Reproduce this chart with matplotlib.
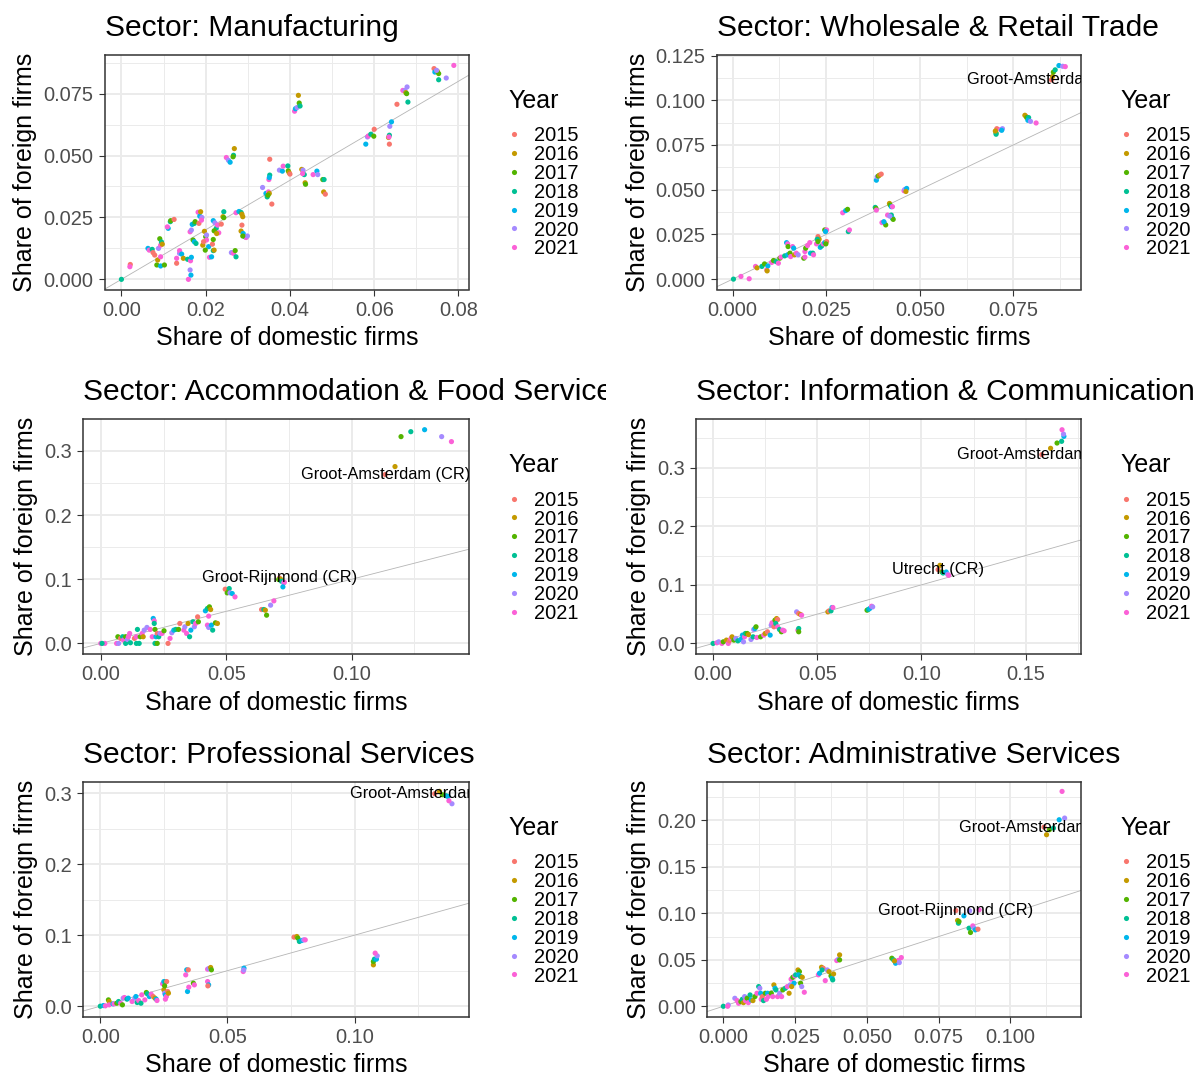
import matplotlib.pyplot as plt
from matplotlib.lines import Line2D
from matplotlib.ticker import FixedLocator, AutoMinorLocator, FormatStrFormatter
from matplotlib.transforms import Bbox

plt.rcParams['font.family'] = ['Liberation Sans', 'DejaVu Sans']

W, H = 1197, 1074

years = [2015, 2016, 2017, 2018, 2019, 2020, 2021]
year_colors = ['#F8766D', '#C49A00', '#53B400', '#00C094', '#00B6EB', '#A58AFF', '#FB61D7']

# (share of domestic firms, share of foreign firms, year)
mfg_pts = [
    (0.0000, 0.0000, 2018),
    (0.0021, 0.0060, 2015), (0.0020, 0.0051, 2021),
    (0.0063, 0.0125, 2019), (0.0066, 0.0118, 2021), (0.0073, 0.0121, 2018), (0.0075, 0.0108, 2015),
    (0.0084, 0.0058, 2017), (0.0093, 0.0054, 2019), (0.0102, 0.0058, 2017), (0.0086, 0.0078, 2016),
    (0.0093, 0.0091, 2021), (0.0088, 0.0125, 2020), (0.0093, 0.0138, 2021), (0.0079, 0.0098, 2015),
    (0.0091, 0.0164, 2017), (0.0095, 0.0151, 2018), (0.0097, 0.0142, 2016),
    (0.0111, 0.0206, 2019), (0.0109, 0.0212, 2021), (0.0116, 0.0233, 2018), (0.0117, 0.0237, 2017), (0.0125, 0.0242, 2015),
    (0.0131, 0.0065, 2015), (0.0131, 0.0085, 2021), (0.0138, 0.0105, 2020), (0.0138, 0.0116, 2021), (0.0143, 0.0102, 2019),
    (0.0147, 0.0085, 2016), (0.0157, 0.0081, 2018),
    (0.0163, 0.0038, 2020), (0.0165, 0.0017, 2019), (0.0159, 0.0000, 2021), (0.0164, 0.0075, 2021), (0.0166, 0.0089, 2019),
    (0.0163, 0.0192, 2021), (0.0166, 0.0199, 2020),
    (0.0168, 0.0222, 2019), (0.0173, 0.0226, 2018), (0.0175, 0.0233, 2017),
    (0.0170, 0.0159, 2017), (0.0173, 0.0152, 2019), (0.0177, 0.0145, 2018),
    (0.0182, 0.0271, 2021), (0.0186, 0.0255, 2019), (0.0188, 0.0273, 2016), (0.0191, 0.0250, 2020),
    (0.0184, 0.0226, 2015), (0.0190, 0.0239, 2021),
    (0.0197, 0.0194, 2016), (0.0200, 0.0172, 2017), (0.0202, 0.0159, 2021), (0.0207, 0.0132, 2019),
    (0.0199, 0.0118, 2017), (0.0193, 0.0138, 2016), (0.0195, 0.0152, 2015), (0.0202, 0.0179, 2020),
    (0.0209, 0.0089, 2021), (0.0214, 0.0091, 2019),
    (0.0216, 0.0142, 2015), (0.0218, 0.0161, 2017), (0.0218, 0.0116, 2018), (0.0220, 0.0118, 2016),
    (0.0218, 0.0237, 2019), (0.0222, 0.0228, 2020), (0.0225, 0.0206, 2018), (0.0228, 0.0219, 2021),
    (0.0231, 0.0188, 2021), (0.0220, 0.0196, 2017), (0.0226, 0.0185, 2016),
    (0.0237, 0.0223, 2015),
    (0.0243, 0.0273, 2018), (0.0241, 0.0253, 2016), (0.0243, 0.0249, 2017),
    (0.0249, 0.0492, 2021), (0.0254, 0.0481, 2020), (0.0258, 0.0473, 2019),
    (0.0261, 0.0108, 2020), (0.0266, 0.0105, 2021), (0.0270, 0.0116, 2017), (0.0272, 0.0091, 2018),
    (0.0268, 0.0528, 2016), (0.0266, 0.0501, 2018), (0.0265, 0.0495, 2017),
    (0.0272, 0.0269, 2021), (0.0279, 0.0274, 2019), (0.0284, 0.0270, 2018), (0.0286, 0.0263, 2016),
    (0.0288, 0.0253, 2016), (0.0286, 0.0219, 2015), (0.0284, 0.0195, 2016), (0.0289, 0.0185, 2019),
    (0.0293, 0.0172, 2018), (0.0296, 0.0169, 2021), (0.0299, 0.0175, 2020), (0.0288, 0.0175, 2017),
    (0.0335, 0.0371, 2020), (0.0343, 0.0347, 2019), (0.0346, 0.0333, 2018), (0.0349, 0.0353, 2021),
    (0.0351, 0.0347, 2016), (0.0348, 0.0340, 2017),
    (0.0352, 0.0485, 2015),
    (0.0350, 0.0403, 2021), (0.0352, 0.0421, 2018), (0.0351, 0.0411, 2019),
    (0.0357, 0.0304, 2015),
    (0.0375, 0.0441, 2020), (0.0382, 0.0437, 2019), (0.0384, 0.0457, 2021), (0.0395, 0.0458, 2018),
    (0.0396, 0.0438, 2017), (0.0398, 0.0431, 2016), (0.0400, 0.0425, 2015),
    (0.0411, 0.0679, 2021), (0.0413, 0.0689, 2019), (0.0417, 0.0694, 2020), (0.0420, 0.0743, 2016),
    (0.0422, 0.0712, 2017), (0.0424, 0.0700, 2018),
    (0.0428, 0.0444, 2016), (0.0431, 0.0441, 2020), (0.0434, 0.0423, 2018), (0.0436, 0.0390, 2016),
    (0.0437, 0.0384, 2017), (0.0430, 0.0427, 2021),
    (0.0455, 0.0423, 2021), (0.0464, 0.0437, 2019), (0.0466, 0.0423, 2020),
    (0.0478, 0.0403, 2017), (0.0481, 0.0403, 2018), (0.0480, 0.0353, 2016), (0.0484, 0.0344, 2015),
    (0.0580, 0.0546, 2019), (0.0584, 0.0575, 2020), (0.0586, 0.0579, 2021), (0.0592, 0.0586, 2018),
    (0.0599, 0.0578, 2017), (0.0600, 0.0606, 2015),
    (0.0634, 0.0573, 2016), (0.0636, 0.0582, 2018), (0.0636, 0.0546, 2015), (0.0637, 0.0618, 2020),
    (0.0641, 0.0636, 2019), (0.0635, 0.0575, 2021),
    (0.0654, 0.0707, 2015),
    (0.0668, 0.0763, 2021), (0.0673, 0.0763, 2020), (0.0675, 0.0754, 2016), (0.0677, 0.0750, 2017),
    (0.0678, 0.0777, 2020), (0.0680, 0.0716, 2018),
    (0.0742, 0.0851, 2015), (0.0744, 0.0837, 2019), (0.0750, 0.0840, 2016), (0.0753, 0.0831, 2017),
    (0.0753, 0.0806, 2018), (0.0748, 0.0844, 2020),
    (0.0771, 0.0813, 2020),
    (0.0789, 0.0864, 2021),
]

trade_pts = [
    (0.0002, 0.0000, 2018), (0.0022, 0.0015, 2021), (0.0044, 0.0002, 2021),
    (0.0061, 0.0071, 2021), (0.0065, 0.0063, 2016),
    (0.0078, 0.0071, 2018), (0.0085, 0.0085, 2017), (0.0091, 0.0052, 2021), (0.0094, 0.0074, 2019), (0.0092, 0.0046, 2016),
    (0.0104, 0.0093, 2021), (0.0109, 0.0104, 2017), (0.0116, 0.0098, 2018), (0.0122, 0.0089, 2021),
    (0.0126, 0.0117, 2017), (0.0129, 0.0123, 2021),
    (0.0139, 0.0130, 2018), (0.0147, 0.0136, 2019), (0.0153, 0.0145, 2017), (0.0155, 0.0126, 2021),
    (0.0144, 0.0204, 2019), (0.0147, 0.0197, 2021), (0.0148, 0.0182, 2017),
    (0.0160, 0.0182, 2021), (0.0163, 0.0173, 2019),
    (0.0165, 0.0136, 2016), (0.0170, 0.0145, 2021), (0.0175, 0.0136, 2020),
    (0.0190, 0.0117, 2017), (0.0193, 0.0123, 2021),
    (0.0193, 0.0154, 2021), (0.0195, 0.0173, 2017), (0.0200, 0.0188, 2021), (0.0206, 0.0204, 2021),
    (0.0208, 0.0145, 2019), (0.0214, 0.0145, 2018), (0.0216, 0.0136, 2021),
    (0.0224, 0.0197, 2021), (0.0228, 0.0238, 2015), (0.0231, 0.0223, 2016), (0.0226, 0.0223, 2018), (0.0228, 0.0210, 2017),
    (0.0234, 0.0178, 2019), (0.0238, 0.0186, 2018), (0.0242, 0.0197, 2021),
    (0.0246, 0.0275, 2017), (0.0251, 0.0275, 2021), (0.0248, 0.0266, 2019),
    (0.0246, 0.0204, 2019), (0.0251, 0.0210, 2015), (0.0249, 0.0197, 2017),
    (0.0294, 0.0371, 2021), (0.0302, 0.0383, 2019), (0.0307, 0.0390, 2017),
    (0.0309, 0.0266, 2018), (0.0312, 0.0275, 2021),
    (0.0381, 0.0401, 2018), (0.0383, 0.0395, 2017), (0.0384, 0.0386, 2021),
    (0.0384, 0.0553, 2019), (0.0386, 0.0572, 2020), (0.0389, 0.0576, 2017), (0.0392, 0.0581, 2016), (0.0397, 0.0587, 2015),
    (0.0399, 0.0316, 2021), (0.0405, 0.0316, 2020), (0.0409, 0.0303, 2017), (0.0404, 0.0321, 2019),
    (0.0414, 0.0358, 2021), (0.0419, 0.0423, 2016), (0.0421, 0.0414, 2017), (0.0424, 0.0405, 2019), (0.0427, 0.0405, 2021),
    (0.0424, 0.0358, 2018), (0.0427, 0.0340, 2019), (0.0429, 0.0334, 2017), (0.0420, 0.0352, 2020),
    (0.0458, 0.0494, 2021), (0.0460, 0.0501, 2020), (0.0465, 0.0507, 2019), (0.0463, 0.0490, 2016),
    (0.0704, 0.0817, 2017), (0.0704, 0.0810, 2018), (0.0706, 0.0841, 2015), (0.0702, 0.0828, 2016),
    (0.0716, 0.0836, 2021), (0.0721, 0.0841, 2020), (0.0719, 0.0832, 2019),
    (0.0784, 0.0910, 2015), (0.0781, 0.0916, 2016), (0.0786, 0.0903, 2017), (0.0791, 0.0903, 2018),
    (0.0789, 0.0888, 2019), (0.0796, 0.0882, 2020), (0.0811, 0.0873, 2021),
    (0.0852, 0.1114, 2015), (0.0855, 0.1133, 2016), (0.0857, 0.1157, 2017), (0.0862, 0.1170, 2018),
    (0.0872, 0.1194, 2019), (0.0882, 0.1190, 2020), (0.0889, 0.1188, 2021),
]

food_pts = [
    (0.0000, 0.0000, 2021), (0.0016, 0.0000, 2021), (0.0005, 0.0000, 2018),
    (0.0063, 0.0000, 2021), (0.0071, 0.0000, 2020), (0.0068, 0.0104, 2017), (0.0079, 0.0078, 2015),
    (0.0087, 0.0104, 2018), (0.0090, 0.0052, 2021), (0.0099, 0.0104, 2017), (0.0099, 0.0000, 2018),
    (0.0106, 0.0062, 2020), (0.0110, 0.0104, 2021), (0.0118, 0.0010, 2018), (0.0115, 0.0155, 2021),
    (0.0134, 0.0078, 2015), (0.0142, 0.0104, 2021), (0.0146, 0.0218, 2018), (0.0142, 0.0000, 2018),
    (0.0153, 0.0000, 2018), (0.0157, 0.0104, 2017), (0.0165, 0.0155, 2021), (0.0169, 0.0104, 2016), (0.0173, 0.0207, 2020),
    (0.0184, 0.0249, 2020), (0.0197, 0.0218, 2021), (0.0209, 0.0389, 2019), (0.0213, 0.0352, 2021),
    (0.0213, 0.0311, 2018), (0.0216, 0.0218, 2017), (0.0205, 0.0104, 2021), (0.0216, 0.0000, 2018),
    (0.0225, 0.0000, 2017), (0.0220, 0.0104, 2019), (0.0225, 0.0155, 2015), (0.0231, 0.0104, 2018), (0.0236, 0.0155, 2020),
    (0.0244, 0.0155, 2021), (0.0252, 0.0197, 2017), (0.0268, 0.0000, 2015), (0.0276, 0.0078, 2021),
    (0.0283, 0.0166, 2020), (0.0291, 0.0207, 2019), (0.0299, 0.0218, 2018), (0.0310, 0.0218, 2017), (0.0315, 0.0311, 2015),
    (0.0331, 0.0207, 2021), (0.0335, 0.0259, 2020), (0.0342, 0.0155, 2021), (0.0348, 0.0311, 2016),
    (0.0354, 0.0104, 2018), (0.0359, 0.0207, 2019), (0.0367, 0.0337, 2018), (0.0373, 0.0259, 2020),
    (0.0378, 0.0311, 2021), (0.0386, 0.0414, 2015), (0.0389, 0.0337, 2017),
    (0.0417, 0.0508, 2019), (0.0425, 0.0544, 2018), (0.0433, 0.0570, 2017), (0.0438, 0.0528, 2016),
    (0.0430, 0.0425, 2021), (0.0425, 0.0285, 2021), (0.0430, 0.0249, 2020), (0.0441, 0.0285, 2019),
    (0.0446, 0.0207, 2018), (0.0457, 0.0321, 2017), (0.0465, 0.0311, 2016),
    (0.0496, 0.0845, 2015), (0.0509, 0.0819, 2016), (0.0512, 0.0855, 2018), (0.0504, 0.0788, 2017),
    (0.0515, 0.0788, 2020), (0.0524, 0.0777, 2019), (0.0535, 0.0725, 2021),
    (0.0641, 0.0528, 2015), (0.0650, 0.0528, 2018), (0.0656, 0.0518, 2016), (0.0661, 0.0440, 2017),
    (0.0677, 0.0596, 2020), (0.0690, 0.0663, 2021),
    (0.0712, 0.1020, 2015), (0.0709, 0.0995, 2017), (0.0717, 0.1000, 2016), (0.0720, 0.0969, 2018),
    (0.0729, 0.0943, 2020), (0.0732, 0.0953, 2021), (0.0726, 0.0881, 2019),
    (0.1134, 0.2632, 2015), (0.1173, 0.2756, 2016), (0.1197, 0.3223, 2017), (0.1236, 0.3300, 2018),
    (0.1291, 0.3331, 2019), (0.1359, 0.3223, 2020), (0.1398, 0.3145, 2021),
]

ict_pts = [
    (0.0000, 0.0000, 2018),
    (0.0018, 0.0011, 2021), (0.0027, 0.0028, 2020), (0.0042, 0.0000, 2021), (0.0049, 0.0028, 2017),
    (0.0064, 0.0057, 2016), (0.0073, 0.0000, 2021), (0.0078, 0.0045, 2015), (0.0086, 0.0085, 2021),
    (0.0091, 0.0113, 2016), (0.0100, 0.0057, 2017),
    (0.0109, 0.0085, 2020), (0.0119, 0.0045, 2018), (0.0133, 0.0068, 2019), (0.0141, 0.0142, 2019),
    (0.0151, 0.0113, 2021), (0.0146, 0.0028, 2020), (0.0155, 0.0170, 2018), (0.0164, 0.0170, 2017), (0.0170, 0.0150, 2016),
    (0.0182, 0.0068, 2020), (0.0192, 0.0113, 2018), (0.0195, 0.0238, 2020), (0.0201, 0.0255, 2019),
    (0.0206, 0.0284, 2017), (0.0210, 0.0102, 2021),
    (0.0228, 0.0113, 2017), (0.0243, 0.0142, 2021), (0.0250, 0.0170, 2016), (0.0261, 0.0199, 2015),
    (0.0274, 0.0142, 2019), (0.0279, 0.0312, 2020), (0.0283, 0.0352, 2021), (0.0292, 0.0284, 2015),
    (0.0297, 0.0397, 2017), (0.0305, 0.0425, 2016), (0.0310, 0.0408, 2015), (0.0301, 0.0340, 2018),
    (0.0310, 0.0284, 2021), (0.0319, 0.0238, 2018), (0.0328, 0.0199, 2017), (0.0334, 0.0227, 2021), (0.0341, 0.0216, 2021),
    (0.0401, 0.0539, 2020), (0.0411, 0.0510, 2015), (0.0420, 0.0493, 2016), (0.0425, 0.0482, 2021),
    (0.0407, 0.0227, 2021), (0.0411, 0.0255, 2018), (0.0411, 0.0199, 2017),
    (0.0551, 0.0539, 2016), (0.0557, 0.0556, 2015), (0.0566, 0.0556, 2018), (0.0571, 0.0613, 2019), (0.0575, 0.0613, 2021),
    (0.0739, 0.0567, 2017), (0.0745, 0.0579, 2018), (0.0752, 0.0596, 2019), (0.0761, 0.0635, 2021), (0.0766, 0.0624, 2020),
    (0.1080, 0.1260, 2015), (0.1089, 0.1333, 2016), (0.1099, 0.1219, 2017), (0.1104, 0.1202, 2018),
    (0.1119, 0.1219, 2019), (0.1126, 0.1180, 2020), (0.1131, 0.1163, 2021),
    (0.1578, 0.3222, 2015), (0.1620, 0.3330, 2016), (0.1651, 0.3420, 2017), (0.1673, 0.3449, 2018),
    (0.1684, 0.3534, 2019), (0.1682, 0.3573, 2020), (0.1675, 0.3647, 2021),
]

prof_pts = [
    (0.0000, 0.0000, 2018), (0.0012, 0.0009, 2019), (0.0020, 0.0005, 2021),
    (0.0032, 0.0089, 2017), (0.0035, 0.0066, 2016), (0.0035, 0.0019, 2021), (0.0050, 0.0033, 2019),
    (0.0054, 0.0033, 2021), (0.0065, 0.0042, 2017), (0.0072, 0.0066, 2018), (0.0080, 0.0042, 2021),
    (0.0087, 0.0019, 2017), (0.0090, 0.0113, 2020), (0.0095, 0.0122, 2021), (0.0105, 0.0099, 2018), (0.0110, 0.0113, 2019),
    (0.0125, 0.0066, 2021), (0.0136, 0.0113, 2020), (0.0140, 0.0136, 2019), (0.0145, 0.0052, 2018),
    (0.0151, 0.0080, 2021), (0.0160, 0.0042, 2018), (0.0163, 0.0160, 2021),
    (0.0175, 0.0089, 2021), (0.0181, 0.0193, 2017), (0.0185, 0.0174, 2018), (0.0193, 0.0136, 2019),
    (0.0200, 0.0169, 2021), (0.0208, 0.0136, 2015), (0.0215, 0.0113, 2016), (0.0220, 0.0099, 2019), (0.0223, 0.0080, 2021),
    (0.0245, 0.0315, 2021), (0.0250, 0.0347, 2019), (0.0256, 0.0340, 2018), (0.0261, 0.0347, 2015),
    (0.0250, 0.0230, 2016), (0.0253, 0.0183, 2020), (0.0256, 0.0160, 2019), (0.0260, 0.0136, 2021),
    (0.0265, 0.0207, 2015), (0.0268, 0.0183, 2016), (0.0256, 0.0099, 2021), (0.0253, 0.0286, 2017),
    (0.0336, 0.0441, 2021), (0.0340, 0.0512, 2019), (0.0346, 0.0512, 2015),
    (0.0343, 0.0207, 2019), (0.0348, 0.0268, 2021), (0.0366, 0.0324, 2017), (0.0370, 0.0300, 2021),
    (0.0422, 0.0521, 2021), (0.0427, 0.0530, 2020), (0.0434, 0.0545, 2016), (0.0437, 0.0512, 2017),
    (0.0422, 0.0347, 2021), (0.0426, 0.0300, 2019), (0.0423, 0.0286, 2015),
    (0.0562, 0.0488, 2021), (0.0565, 0.0535, 2019), (0.0564, 0.0510, 2020),
    (0.0762, 0.0972, 2015), (0.0773, 0.0981, 2016), (0.0777, 0.0958, 2017), (0.0783, 0.0911, 2018),
    (0.0792, 0.0925, 2019), (0.0800, 0.0934, 2020), (0.0806, 0.0934, 2021),
    (0.1074, 0.0582, 2016), (0.1074, 0.0629, 2017), (0.1078, 0.0662, 2018), (0.1086, 0.0662, 2019),
    (0.1089, 0.0709, 2020), (0.1081, 0.0747, 2021),
    (0.1315, 0.2991, 2015), (0.1334, 0.3024, 2016), (0.1345, 0.2977, 2017), (0.1360, 0.2963, 2018),
    (0.1367, 0.2953, 2019), (0.1383, 0.2850, 2020), (0.1371, 0.2892, 2021),
]

admin_pts = [
    (0.0000, 0.0000, 2018), (0.0017, 0.0014, 2020), (0.0015, 0.0000, 2021),
    (0.0040, 0.0086, 2020), (0.0048, 0.0061, 2021), (0.0053, 0.0032, 2021), (0.0061, 0.0050, 2017),
    (0.0066, 0.0075, 2018), (0.0070, 0.0039, 2016), (0.0074, 0.0104, 2020), (0.0077, 0.0061, 2021),
    (0.0083, 0.0086, 2017), (0.0087, 0.0039, 2021), (0.0093, 0.0122, 2018), (0.0097, 0.0068, 2019),
    (0.0103, 0.0061, 2016), (0.0110, 0.0104, 2017), (0.0117, 0.0140, 2021), (0.0123, 0.0212, 2018),
    (0.0127, 0.0194, 2020), (0.0130, 0.0140, 2019), (0.0132, 0.0075, 2021), (0.0136, 0.0104, 2015),
    (0.0140, 0.0061, 2018), (0.0146, 0.0140, 2017), (0.0150, 0.0075, 2021), (0.0154, 0.0140, 2019), (0.0156, 0.0104, 2021),
    (0.0167, 0.0140, 2017), (0.0172, 0.0104, 2021), (0.0176, 0.0230, 2016), (0.0180, 0.0194, 2019),
    (0.0183, 0.0176, 2018), (0.0189, 0.0104, 2021), (0.0196, 0.0140, 2020), (0.0203, 0.0104, 2021), (0.0207, 0.0176, 2017),
    (0.0216, 0.0194, 2018), (0.0223, 0.0212, 2021), (0.0229, 0.0140, 2016), (0.0233, 0.0230, 2020),
    (0.0236, 0.0291, 2021), (0.0242, 0.0312, 2017), (0.0249, 0.0327, 2021), (0.0252, 0.0338, 2018),
    (0.0246, 0.0248, 2019), (0.0238, 0.0212, 2016),
    (0.0260, 0.0391, 2016), (0.0265, 0.0373, 2017), (0.0262, 0.0338, 2019), (0.0269, 0.0320, 2018),
    (0.0275, 0.0312, 2016), (0.0269, 0.0248, 2017), (0.0273, 0.0212, 2020), (0.0282, 0.0151, 2021),
    (0.0331, 0.0338, 2021), (0.0335, 0.0355, 2019), (0.0342, 0.0420, 2016), (0.0348, 0.0409, 2015),
    (0.0344, 0.0391, 2018), (0.0355, 0.0276, 2021), (0.0362, 0.0391, 2020), (0.0368, 0.0373, 2016),
    (0.0375, 0.0327, 2017), (0.0379, 0.0302, 2019), (0.0384, 0.0348, 2016), (0.0381, 0.0284, 2018),
    (0.0395, 0.0492, 2021), (0.0401, 0.0506, 2020), (0.0405, 0.0553, 2016), (0.0405, 0.0499, 2017),
    (0.0587, 0.0517, 2017), (0.0593, 0.0499, 2018), (0.0600, 0.0463, 2019), (0.0609, 0.0492, 2021),
    (0.0613, 0.0470, 2020), (0.0620, 0.0524, 2021), (0.0596, 0.0488, 2016),
    (0.0810, 0.1030, 2015), (0.0816, 0.0923, 2016), (0.0819, 0.0894, 2018), (0.0821, 0.0912, 2017),
    (0.0838, 0.0973, 2019), (0.0858, 0.1027, 2020), (0.0891, 0.1038, 2021),
    (0.0856, 0.0840, 2018), (0.0861, 0.0794, 2017), (0.0869, 0.0865, 2021), (0.0874, 0.0840, 2020),
    (0.0878, 0.0822, 2019), (0.0887, 0.0829, 2015),
    (0.1117, 0.1928, 2015), (0.1126, 0.1846, 2016), (0.1136, 0.1900, 2017), (0.1150, 0.1917, 2018),
    (0.1170, 0.2007, 2019), (0.1189, 0.2025, 2020), (0.1180, 0.2312, 2021),
]

# region labels, placed at the 2015 point of the region
trade_labels = [('Groot-Amsterdam (CR)', 0.0852, 0.1114)]
food_labels = [('Groot-Amsterdam (CR)', 0.1134, 0.2632), ('Groot-Rijnmond (CR)', 0.0712, 0.1020)]
ict_labels = [('Groot-Amsterdam (CR)', 0.1578, 0.3222), ('Utrecht (CR)', 0.1080, 0.1260)]
prof_labels = [('Groot-Amsterdam (CR)', 0.1315, 0.2991)]
admin_labels = [('Groot-Amsterdam (CR)', 0.1117, 0.1928), ('Groot-Rijnmond (CR)', 0.0810, 0.1030)]

panels = [
    dict(title='Sector: Manufacturing', pts=mfg_pts, labels=[],
         xlim=(-0.0039, 0.0825), ylim=(-0.0041, 0.0906),
         xticks=[0, 0.02, 0.04, 0.06, 0.08], yticks=[0, 0.025, 0.05, 0.075],
         xfmt='%.2f', yfmt='%.3f', box=(105, 469, 55, 289.5)),
    dict(title='Sector: Wholesale & Retail Trade', pts=trade_pts, labels=trade_labels,
         xlim=(-0.0042, 0.0931), ylim=(-0.0058, 0.1253),
         xticks=[0, 0.025, 0.05, 0.075], yticks=[0, 0.025, 0.05, 0.075, 0.1, 0.125],
         xfmt='%.3f', yfmt='%.3f', box=(717, 1081, 55, 289.5)),
    dict(title='Sector: Accommodation & Food Services', pts=food_pts, labels=food_labels,
         xlim=(-0.0071, 0.1468), ylim=(-0.0165, 0.3493),
         xticks=[0, 0.05, 0.1], yticks=[0, 0.1, 0.2, 0.3],
         xfmt='%.2f', yfmt='%.1f', box=(83, 469, 419.3, 654)),
    dict(title='Sector: Information & Communication', pts=ict_pts, labels=ict_labels,
         xlim=(-0.0082, 0.1766), ylim=(-0.0180, 0.3825),
         xticks=[0, 0.05, 0.1, 0.15], yticks=[0, 0.1, 0.2, 0.3],
         xfmt='%.2f', yfmt='%.1f', box=(696, 1081, 419.3, 654)),
    dict(title='Sector: Professional Services', pts=prof_pts, labels=prof_labels,
         xlim=(-0.0068, 0.1450), ylim=(-0.0145, 0.3152),
         xticks=[0, 0.05, 0.1], yticks=[0, 0.1, 0.2, 0.3],
         xfmt='%.2f', yfmt='%.1f', box=(83, 469, 782.3, 1016.5)),
    dict(title='Sector: Administrative Services', pts=admin_pts, labels=admin_labels,
         xlim=(-0.0057, 0.1246), ylim=(-0.0110, 0.2410),
         xticks=[0, 0.025, 0.05, 0.075, 0.1], yticks=[0, 0.05, 0.1, 0.15, 0.2],
         xfmt='%.3f', yfmt='%.2f', box=(707, 1081, 782.3, 1016.5)),
]

color_of = dict(zip(years, year_colors))

fig = plt.figure(figsize=(W / 100, H / 100), dpi=100)

for p in panels:
    left, right, top, bottom = p['box']
    ax = fig.add_axes([left / W, 1 - bottom / H, (right - left) / W, (bottom - top) / H])

    xs = [pt[0] for pt in p['pts']]
    ys = [pt[1] for pt in p['pts']]
    cs = [color_of[pt[2]] for pt in p['pts']]
    ax.scatter(xs, ys, s=14, c=cs, linewidths=0, zorder=3)
    ax.axline((0, 0), slope=1, color='#b5b5b5', lw=0.6, zorder=2)

    for name, lx, ly in p['labels']:
        t = ax.text(lx, ly, name, ha='center', va='center', fontsize=11.8, zorder=4)
        t.set_clip_box(ax.bbox)
        t.set_clip_on(True)

    ax.set_xlim(p['xlim'])
    ax.set_ylim(p['ylim'])
    ax.xaxis.set_major_locator(FixedLocator(p['xticks']))
    ax.yaxis.set_major_locator(FixedLocator(p['yticks']))
    ax.xaxis.set_major_formatter(FormatStrFormatter(p['xfmt']))
    ax.yaxis.set_major_formatter(FormatStrFormatter(p['yfmt']))
    ax.xaxis.set_minor_locator(AutoMinorLocator(2))
    ax.yaxis.set_minor_locator(AutoMinorLocator(2))

    ax.set_axisbelow(True)
    ax.grid(which='major', color='#EBEBEB', lw=1.4)
    ax.grid(which='minor', color='#EBEBEB', lw=0.7)
    for sp in ax.spines.values():
        sp.set_color('#333333')
        sp.set_linewidth(1.1)
    ax.tick_params(which='major', length=4.5, width=0.8, color='#333333', pad=3.6,
                   labelsize=14.4, labelcolor='#4D4D4D')
    ax.tick_params(which='minor', length=0)

    ax.set_xlabel('Share of domestic firms', fontsize=18, labelpad=4.5)
    ax.set_ylabel('Share of foreign firms', fontsize=18, labelpad=4.5)
    title = ax.set_title(p['title'], loc='left', fontsize=21.6, pad=14)
    if left < 600:
        title.set_clip_box(Bbox.from_extents(0, 0, 606, H))
        title.set_clip_on(True)

    # legend, drawn to the right of the panel
    cy = (top + bottom) / 2
    fig.text((right + 39) / W, 1 - (cy - 73.2 + 9) / H, 'Year', fontsize=18,
             ha='left', va='baseline')
    for i, yr in enumerate(years):
        yc = cy - 38.1 + i * 18.85
        fig.add_artist(Line2D([(right + 45) / W], [1 - yc / H], transform=fig.transFigure,
                              marker='o', ms=3.7, mew=0, color=color_of[yr], linestyle='none'))
        fig.text((right + 65) / W, 1 - (yc + 7.2) / H, str(yr), fontsize=14.4,
                 ha='left', va='baseline')

fig.savefig('out.png', dpi=100)
